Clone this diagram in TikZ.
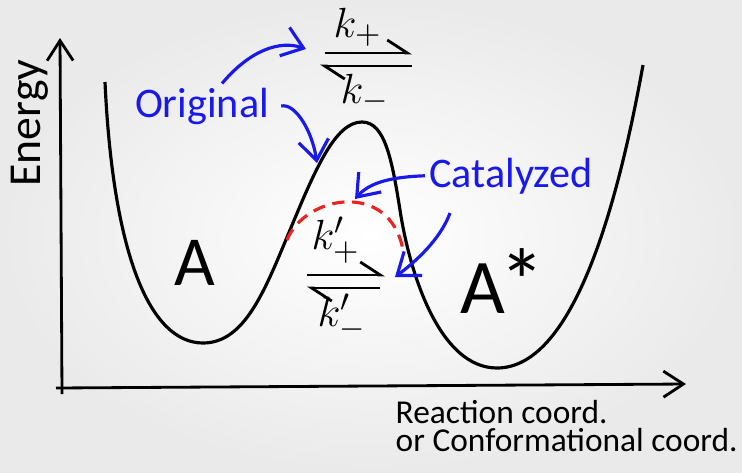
\documentclass[tikz,border=0pt]{standalone}
\usepackage{fontspec}
\setmainfont{Carlito}
\usetikzlibrary{arrows.meta,positioning}
\definecolor{penblue}{RGB}{25,25,235}
\definecolor{penred}{RGB}{235,35,35}
\definecolor{boardgrey}{RGB}{234,234,234}

\begin{document}
\begin{tikzpicture}[x=0.01cm, y=-0.01cm,
    curve/.style={line width=0.9pt, black},
    axis/.style={line width=0.8pt, -{Straight Barb[length=2mm, width=2.6mm]}},
    note/.style={font=\fontsize{12}{14}\selectfont, text=penblue, inner sep=1pt},
    pointer/.style={line width=0.9pt, penblue, -{Straight Barb[length=2mm, width=3mm]}},
    rate/.style={font=\fontsize{13}{15}\selectfont, inner sep=0pt},
    harpoon/.style={line width=0.8pt, -{Straight Barb[left, length=2mm, width=2.6mm]}},
    well/.style={font=\fontsize{20}{22}\selectfont, inner sep=1pt},
    catpath/.style={line width=0.9pt, penred, dash pattern=on 3.5pt off 2.2pt},
    axlabel/.style={font=\fontsize{9.5}{11}\selectfont, inner sep=0pt}
]
    % board
    \shade[inner color=white, outer color=boardgrey] (0,0) rectangle (742,472);
    \useasboundingbox (0,0) rectangle (742,472);

    % axes
    \coordinate (ybase) at (62,394);
    \coordinate (ytip) at (60,38);
    \coordinate (xbase) at (56,388);
    \coordinate (xtip) at (686,384);
    \draw[axis] (ybase) -- (ytip);
    \draw[axis] (xbase) -- (xtip);

    \node[rotate=90, font=\fontsize{13}{15}\selectfont] (energy) at (30,123) {Energy};
    \node[axlabel, anchor=base west] (xlab1) at (395,423) {Reaction coord.};
    \node[axlabel, anchor=base west] (xlab2) at (395,451) {or Conformational coord.};

    % energy landscape
    \draw[curve] (105,82) .. controls (113,255) and (150,343) .. (203,343)
        .. controls (245,343) and (265,290) .. (290,230)
        .. controls (315,170) and (335,122) .. (362,122)
        .. controls (385,122) and (392,160) .. (400,210)
        .. controls (410,275) and (440,368) .. (497,368)
        .. controls (570,368) and (615,220) .. (643,65);
    \draw[catpath] (287,240) .. controls (305,195) and (390,180) .. (403,250);

    \node[well] (wellA) at (195,263) {A};
    \node[well, font=\fontsize{22}{24}\selectfont] (wellB) at (503,281) {A\kern-1.5pt{\fontsize{26}{26}\selectfont*}};

    % rates, original
    \node[rate] (kp) at (358,27) {$k_{+}$};
    \node[rate] (km) at (365,93) {$k_{-}$};
    \coordinate (tfw0) at (325,53);
    \coordinate (tfw1) at (412,53);
    \coordinate (tbw0) at (412,66);
    \coordinate (tbw1) at (320,66);
    \draw[harpoon] (tfw0) -- (tfw1);
    \draw[harpoon] (tbw0) -- (tbw1);

    % rates, catalyzed
    \node[rate] (kpc) at (336,240) {$k'_{+}$};
    \node[rate] (kmc) at (342,317) {$k'_{-}$};
    \coordinate (lfw0) at (307,275);
    \coordinate (lfw1) at (385,275);
    \coordinate (lbw0) at (380,288);
    \coordinate (lbw1) at (307,288);
    \draw[harpoon] (lfw0) -- (lfw1);
    \draw[harpoon] (lbw0) -- (lbw1);

    % notes
    \node[note] (orig) at (202,106) {Original};
    \node[note, anchor=base west] (cat) at (425,187) {Catalyzed};

    \coordinate (eqtop) at (306,49);
    \coordinate (barrier) at (317,163);
    \coordinate (cattop) at (355,199);
    \coordinate (eqlow) at (395,277);

    \draw[pointer] ([xshift=2mm]orig.north) .. controls (250,50) and (280,40) .. (eqtop);
    \draw[pointer] ([xshift=0.8mm]orig.east) .. controls (295,103) and (312,130) .. (barrier);
    \draw[pointer] (cat.west) .. controls (392,177) and (370,182) .. (cattop);
    \draw[pointer] ([xshift=2.5mm, yshift=-1.5mm]cat.south west) .. controls (440,240) and (415,262) .. (eqlow);
\end{tikzpicture}
\end{document}
